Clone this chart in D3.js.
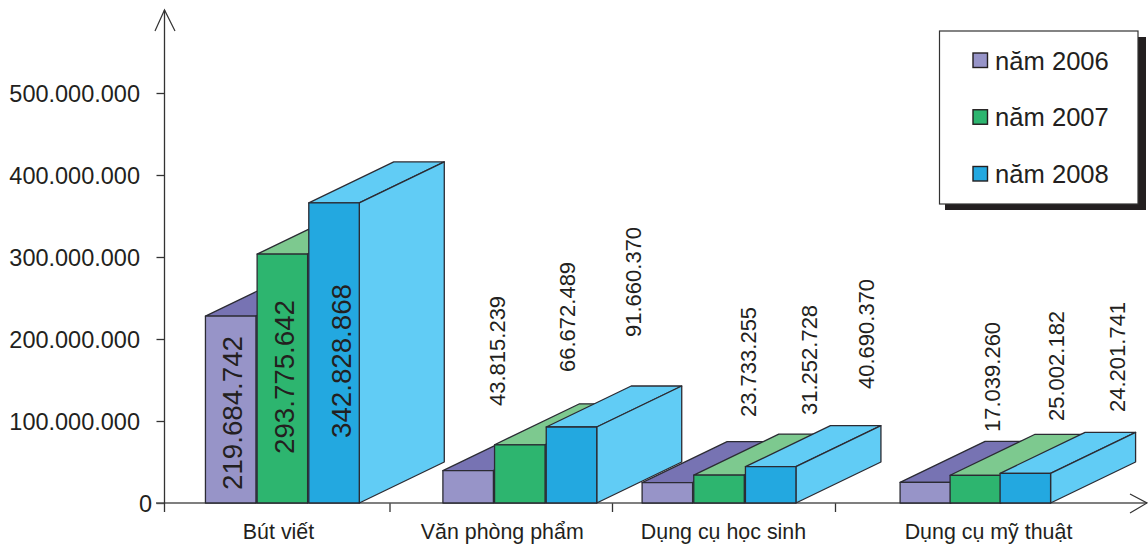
<!DOCTYPE html>
<html>
<head>
<meta charset="utf-8">
<script src="https://cdn.jsdelivr.net/npm/d3@7"></script>
<style>
  body { margin: 0; background: #fff; }
  svg { display: block; }
  text { font-family: "Liberation Sans", sans-serif; fill: #231f20; }
</style>
</head>
<body>
<svg></svg>
<script>
const categories = ["Bút viết", "Văn phòng phẩm", "Dụng cụ học sinh", "Dụng cụ mỹ thuật"]
const seriesNames = ["năm 2006", "năm 2007", "năm 2008"]

// the numbers printed on the bars
const values2006 = [219684742, 43815239, 23733255, 17039260]
const values2007 = [293775642, 66672489, 31252728, 25002182]
const values2008 = [342828868, 91660370, 40690370, 24201741]

// the height each bar really reaches on the axis
// (the original is not drawn to scale, so these differ from the printed numbers)
const reach2006 = [228000000, 39400000, 24800000, 25200000]
const reach2007 = [303600000, 71000000, 34000000, 33800000]
const reach2008 = [366000000, 92700000, 44300000, 36200000]

const yTicks = [0, 100000000, 200000000, 300000000, 400000000, 500000000]

const width = 1148
const height = 546

const colors = [
    { front: "#9794c8", top: "#7773b3", side: "#7773b3" },
    { front: "#2db56f", top: "#7dc98f", side: "#61ccf5" },
    { front: "#23a8e0", top: "#61ccf5", side: "#61ccf5" }
]
const stroke = "#2b2b33"

const barWidth = 50.5
const depthX = 85
const depthY = 41

// where each group starts, in category units (the groups are unevenly placed)
const groupStart = [0.182, 1.24, 2.135, 3.212]
const groupSpan = [155, 155, 155, 150]

// rotated labels: x centre and lower end of the text, per series and category
const labelX = [[232, 497, 748, 992], [284, 567, 809, 1056], [341, 633, 866, 1117]]
const labelBottom = [[490, 406, 417, 432], [454, 372, 415, 421], [438, 337, 389, 412]]

const svg = d3.select("svg").attr("width", width).attr("height", height)

const yScale = d3.scaleLinear().domain([0, 500000000]).range([503, 93])
const xScale = d3.scaleLinear().domain([0, 1, 2, 3, 4]).range([164.5, 389.5, 612, 835, 1142])
const seriesScale = d3.scaleBand().domain(seriesNames)

const dotted = d3.formatLocale({ decimal: ",", thousands: ".", grouping: [3], currency: ["", ""] }).format(",")

const series = [
    { name: seriesNames[0], values: values2006, reach: reach2006 },
    { name: seriesNames[1], values: values2007, reach: reach2007 },
    { name: seriesNames[2], values: values2008, reach: reach2008 }
]

const drawAxes = () => {
    let yAxis = d3.axisLeft(yScale).tickValues(yTicks).tickFormat(dotted).tickSize(8).tickSizeOuter(0)
    let g = svg.append("g").attr("transform", "translate(164.5,0)").call(yAxis)
    g.select(".domain").remove()
    g.selectAll("line").attr("stroke", "#333").attr("stroke-width", 1.3)
    g.selectAll("text")
        .attr("x", d => d === 0 ? -12.5 : -24.5)
        .attr("y", 0.8)
        .style("font-size", "23.5px")

    let xAxis = d3.axisBottom(xScale).tickValues([1, 2, 3]).tickFormat("").tickSize(9).tickSizeOuter(0)
    let gx = svg.append("g").attr("transform", "translate(0,503)").call(xAxis)
    gx.select(".domain").remove()
    gx.selectAll("line").attr("stroke", "#333").attr("stroke-width", 1.3)

    svg.append("line").attr("x1", 156).attr("x2", 1147).attr("y1", 503).attr("y2", 503)
        .attr("stroke", "#555").attr("stroke-width", 1.6)
    svg.append("line").attr("x1", 164.5).attr("x2", 164.5).attr("y1", 10).attr("y2", 512)
        .attr("stroke", "#333").attr("stroke-width", 1.3)
    // arrow heads
    svg.append("path").attr("d", "M155,31L164.5,10L175,31").attr("fill", "none").attr("stroke", "#333").attr("stroke-width", 1.2)
    svg.append("path").attr("d", "M1130,494L1147,503L1130,513").attr("fill", "none").attr("stroke", "#333").attr("stroke-width", 1.2)

    svg.selectAll(".cat")
        .data(categories)
        .enter()
        .append("text")
        .attr("class", "cat")
        .attr("x", (d, i) => xScale(i + 0.5) + (i < 2 ? 1.5 : 0))
        .attr("y", 538.5)
        .attr("text-anchor", "middle")
        .style("font-size", "21.4px")
        .text(d => d)
}

const drawBars = () => {
    categories.forEach((cat, c) => {
        seriesScale.range([0, groupSpan[c]])
        series.forEach((s, i) => {
            let x0 = xScale(groupStart[c]) + seriesScale(s.name)
            let x1 = x0 + barWidth
            let top = yScale(s.reach[c])
            let base = yScale(0)
            let g = svg.append("g").attr("class", "bar")
                .attr("stroke", stroke).attr("stroke-width", 1.3).attr("stroke-linejoin", "round")

            g.append("path")
                .attr("d", d3.line()([[x0, top], [x1, top], [x1 + depthX, top - depthY], [x0 + depthX, top - depthY]]) + "Z")
                .attr("fill", colors[i].top)
            g.append("path")
                .attr("d", d3.line()([[x1, top], [x1 + depthX, top - depthY], [x1 + depthX, base - depthY], [x1, base]]) + "Z")
                .attr("fill", colors[i].side)
            g.append("rect")
                .attr("x", x0).attr("y", top)
                .attr("width", barWidth).attr("height", base - top)
                .attr("fill", colors[i].front)
        })
    })
}

const drawLabels = () => {
    series.forEach((s, i) => {
        s.values.forEach((v, c) => {
            svg.append("text")
                .attr("transform", "translate(" + labelX[i][c] + "," + labelBottom[i][c] + ") rotate(-90)")
                .attr("dy", "0.36em")
                .style("font-size", c === 0 ? "27.7px" : "22px")
                .text(dotted(v))
        })
    })
}

const drawLegend = () => {
    svg.append("rect").attr("x", 945).attr("y", 37).attr("width", 201).attr("height", 173).attr("fill", "#231f20")
    svg.append("rect").attr("x", 939.5).attr("y", 31).attr("width", 198.5).attr("height", 173)
        .attr("fill", "#fff").attr("stroke", "#333").attr("stroke-width", 1.2)

    let rows = d3.scalePoint().domain(seriesNames).range([60, 173.5])
    seriesNames.forEach((name, i) => {
        svg.append("rect")
            .attr("x", 973).attr("y", rows(name) - 7)
            .attr("width", 14.5).attr("height", 14.5)
            .attr("fill", colors[i].front).attr("stroke", "#231f20").attr("stroke-width", 1.4)
        svg.append("text")
            .attr("x", 995).attr("y", rows(name) + 9.5)
            .style("font-size", "25.6px")
            .text(name)
    })
}

drawAxes()
drawBars()
drawLabels()
drawLegend()
</script>
</body>
</html>
